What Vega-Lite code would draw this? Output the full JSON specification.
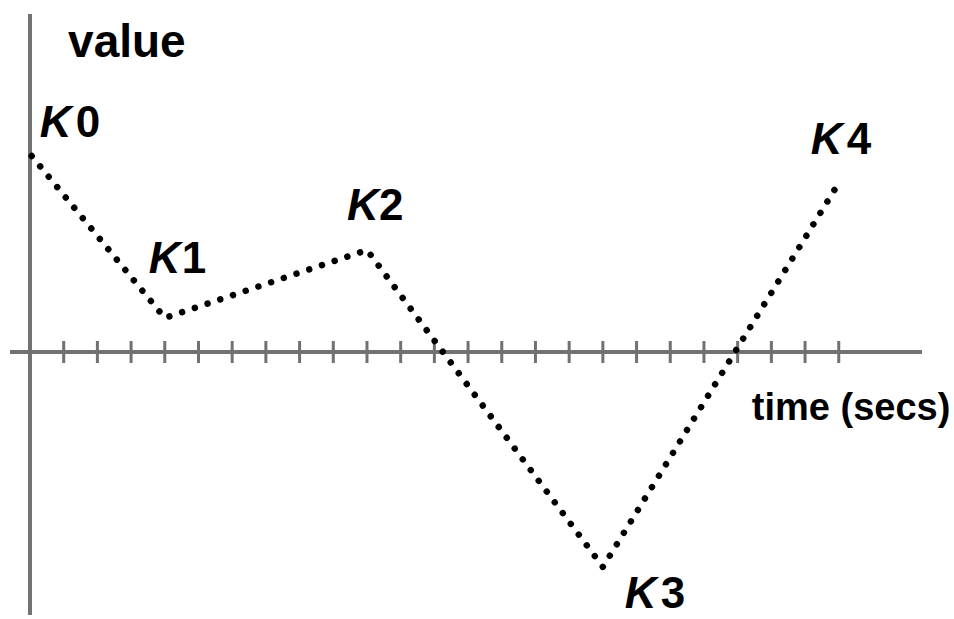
{
  "$schema": "https://vega.github.io/schema/vega-lite/v6.json",
  "width": 954,
  "height": 619,
  "autosize": {"type": "fit", "contains": "padding"},
  "padding": 0,
  "background": "white",
  "config": {"view": {"stroke": null}},
  "datasets": {
    "keyframes": [
      {"key": "K0", "time": 0.05, "value": 196},
      {"key": "K1", "time": 4, "value": 34},
      {"key": "K2", "time": 10, "value": 102},
      {"key": "K3", "time": 17, "value": -215},
      {"key": "K4", "time": 24, "value": 169}
    ],
    "tickrows": [
      {"t": 1}, {"t": 2}, {"t": 3}, {"t": 4}, {"t": 5}, {"t": 6},
      {"t": 7}, {"t": 8}, {"t": 9}, {"t": 10}, {"t": 11}, {"t": 12},
      {"t": 13}, {"t": 14}, {"t": 15}, {"t": 16}, {"t": 17}, {"t": 18},
      {"t": 19}, {"t": 20}, {"t": 21}, {"t": 22}, {"t": 23}, {"t": 24}
    ]
  },
  "layer": [
    {
      "data": {"name": "keyframes"},
      "mark": {"type": "rule", "color": "#717171", "strokeWidth": 3},
      "encoding": {
        "x": {"datum": -0.59, "type": "quantitative", "scale": {"domain": [-0.89, 27.42], "nice": false, "zero": false}, "axis": null},
        "x2": {"datum": 26.47},
        "y": {"datum": 0, "type": "quantitative", "scale": {"domain": [-267, 352], "nice": false, "zero": false}, "axis": null}
      }
    },
    {
      "data": {"name": "keyframes"},
      "mark": {"type": "rule", "color": "#717171", "strokeWidth": 3},
      "encoding": {"x": {"datum": 0, "type": "quantitative"}, "y": {"datum": 338, "type": "quantitative"}, "y2": {"datum": -263}}
    },
    {
      "data": {"name": "tickrows"},
      "mark": {"type": "rule", "color": "#717171", "strokeWidth": 3},
      "encoding": {"x": {"field": "t", "type": "quantitative"}, "y": {"datum": 11, "type": "quantitative"}, "y2": {"datum": -11}}
    },
    {
      "data": {"name": "keyframes"},
      "mark": {"type": "line", "color": "black", "strokeWidth": 6.5, "strokeDash": [0.01, 13.4], "strokeCap": "round"},
      "encoding": {"x": {"field": "time", "type": "quantitative"}, "y": {"field": "value", "type": "quantitative"}, "order": {"field": "time"}}
    },
    {
      "data": {"name": "keyframes"},
      "transform": [{"filter": "datum.key == 'K0'"}],
      "mark": {"type": "text", "text": "value", "font": "Liberation Sans", "fontWeight": "bold", "fontSize": 46, "align": "left", "baseline": "alphabetic", "color": "black"},
      "encoding": {"x": {"datum": 1.13, "type": "quantitative"}, "y": {"datum": 295, "type": "quantitative"}}
    },
    {
      "data": {"name": "keyframes"},
      "transform": [{"filter": "datum.key == 'K0'"}],
      "mark": {"type": "text", "text": "time (secs)", "font": "Liberation Sans", "fontWeight": "bold", "fontSize": 38, "align": "left", "baseline": "alphabetic", "color": "black"},
      "encoding": {"x": {"datum": 21.42, "type": "quantitative"}, "y": {"datum": -68, "type": "quantitative"}}
    },
    {
      "data": {"name": "keyframes"},
      "transform": [{"filter": "datum.key == 'K0'"}],
      "encoding": {"x": {"field": "time", "type": "quantitative"}, "y": {"field": "value", "type": "quantitative"}},
      "layer": [
        {"mark": {"type": "text", "text": "K", "font": "Liberation Sans", "fontWeight": "bold", "fontStyle": "italic", "fontSize": 44, "align": "left", "baseline": "alphabetic", "dx": 8, "dy": -19, "color": "black"}},
        {"mark": {"type": "text", "text": "0", "font": "Liberation Sans", "fontWeight": "bold", "fontSize": 44, "align": "left", "baseline": "alphabetic", "dx": 44, "dy": -19, "color": "black"}}
      ]
    },
    {
      "data": {"name": "keyframes"},
      "transform": [{"filter": "datum.key == 'K1'"}],
      "encoding": {"x": {"field": "time", "type": "quantitative"}, "y": {"field": "value", "type": "quantitative"}},
      "layer": [
        {"mark": {"type": "text", "text": "K", "font": "Liberation Sans", "fontWeight": "bold", "fontStyle": "italic", "fontSize": 44, "align": "left", "baseline": "alphabetic", "dx": -16, "dy": -45, "color": "black"}},
        {"mark": {"type": "text", "text": "1", "font": "Liberation Sans", "fontWeight": "bold", "fontSize": 44, "align": "left", "baseline": "alphabetic", "dx": 17, "dy": -45, "color": "black"}}
      ]
    },
    {
      "data": {"name": "keyframes"},
      "transform": [{"filter": "datum.key == 'K2'"}],
      "encoding": {"x": {"field": "time", "type": "quantitative"}, "y": {"field": "value", "type": "quantitative"}},
      "layer": [
        {"mark": {"type": "text", "text": "K", "font": "Liberation Sans", "fontWeight": "bold", "fontStyle": "italic", "fontSize": 44, "align": "left", "baseline": "alphabetic", "dx": -20, "dy": -30, "color": "black"}},
        {"mark": {"type": "text", "text": "2", "font": "Liberation Sans", "fontWeight": "bold", "fontSize": 44, "align": "left", "baseline": "alphabetic", "dx": 12, "dy": -30, "color": "black"}}
      ]
    },
    {
      "data": {"name": "keyframes"},
      "transform": [{"filter": "datum.key == 'K3'"}],
      "encoding": {"x": {"field": "time", "type": "quantitative"}, "y": {"field": "value", "type": "quantitative"}},
      "layer": [
        {"mark": {"type": "text", "text": "K", "font": "Liberation Sans", "fontWeight": "bold", "fontStyle": "italic", "fontSize": 44, "align": "left", "baseline": "alphabetic", "dx": 22, "dy": 41, "color": "black"}},
        {"mark": {"type": "text", "text": "3", "font": "Liberation Sans", "fontWeight": "bold", "fontSize": 44, "align": "left", "baseline": "alphabetic", "dx": 58, "dy": 41, "color": "black"}}
      ]
    },
    {
      "data": {"name": "keyframes"},
      "transform": [{"filter": "datum.key == 'K4'"}],
      "encoding": {"x": {"field": "time", "type": "quantitative"}, "y": {"field": "value", "type": "quantitative"}},
      "layer": [
        {"mark": {"type": "text", "text": "K", "font": "Liberation Sans", "fontWeight": "bold", "fontStyle": "italic", "fontSize": 44, "align": "left", "baseline": "alphabetic", "dx": -28, "dy": -29, "color": "black"}},
        {"mark": {"type": "text", "text": "4", "font": "Liberation Sans", "fontWeight": "bold", "fontSize": 44, "align": "left", "baseline": "alphabetic", "dx": 8, "dy": -29, "color": "black"}}
      ]
    }
  ]
}
